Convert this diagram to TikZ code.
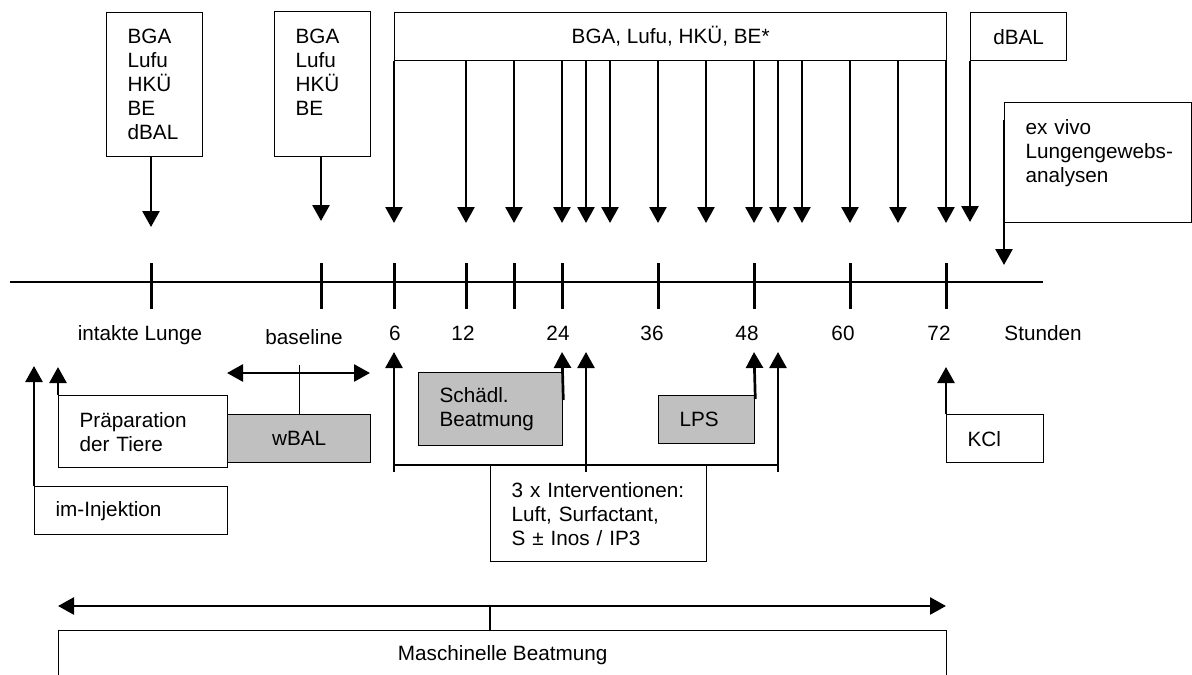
\documentclass[tikz,border=0pt]{standalone}
\usepackage{fontspec}
\setmainfont{Liberation Sans}
\usetikzlibrary{arrows.meta,calc}
\definecolor{boxgray}{HTML}{C0C0C0}
\tikzset{
  fnt/.style={font=\fontsize{20.7pt}{24pt}\selectfont},
  box/.style={draw=black, line width=1.3pt, fnt, inner xsep=21pt, inner ysep=0pt, align=left, anchor=north west},
  cbox/.style={draw=black, line width=1.3pt, fnt, inner sep=0pt, align=center, anchor=north west},
  arr/.style={line width=2.7pt, -{Triangle[width=17pt,length=16pt]}},
  darr/.style={line width=2.7pt, {Triangle[width=17pt,length=16pt]}-{Triangle[width=17pt,length=16pt]}},
  conn/.style={line width=1.3pt},
  bus/.style={line width=2pt},
  tickmark/.style={line width=3pt},
  lbl/.style={fnt, inner sep=0pt, anchor=base},
}
\begin{document}
\begin{tikzpicture}[x=1pt,y=-1pt]
\useasboundingbox (0,0) rectangle (1192,675);

% timeline
\draw[line width=1.5pt] (10,282) -- (1043,282);
\foreach \x in {151,321,394,466,514,562,658,754,850,946}
  \draw[tickmark] (\x,263) -- (\x,309);

% tick labels
\node[lbl] (lintakt) at (140,340) {intakte Lunge};
\node[lbl] (lbase) at (304,344) {baseline};
\node[lbl] (l6) at (395,340) {6};
\node[lbl] (l12) at (463,340) {12};
\node[lbl] (l24) at (558,340) {24};
\node[lbl] (l36) at (652,340) {36};
\node[lbl] (l48) at (747,340) {48};
\node[lbl] (l60) at (843,340) {60};
\node[lbl] (l72) at (939,340) {72};
\node[lbl] (lstd) at (1043,340) {Stunden};

% top boxes
\node[box, minimum width=96pt, minimum height=144pt, text width=54pt] (b1) at (106,12) {BGA\\Lufu\\HKÜ\\BE\\dBAL};
\node[box, minimum width=96pt, minimum height=145pt, text width=54pt] (b2) at (274,11) {BGA\\Lufu\\HKÜ\\BE\\\mbox{}};
\node[cbox, minimum width=552pt, minimum height=48pt] (ball) at (394,12) {BGA, Lufu, HKÜ, BE*};
\node[cbox, minimum width=96pt, minimum height=48pt] (dbal) at (970,12) {dBAL};
\node[box, minimum width=187pt, minimum height=120pt, text width=145pt] (exv) at (1004,102) {\mbox{ex vivo}\\\mbox{Lungengewebs-}\\\mbox{analysen}\\\mbox{}};

\draw[arr] (151,0 |- b1.south) -- (151,227);
\draw[arr] (321,0 |- b2.south) -- (321,221);
\foreach \x in {394,466,514,562,586,610,658,706,754,778,802,850,898,946}
  \draw[arr] (\x,0 |- ball.south) -- (\x,223);
\draw[arr] (dbal.south west) -- (970,222);
\draw[arr] ($(exv.north west)+(0,18)$) -- (1004,265);

% lower boxes
\node[box, minimum width=169pt, minimum height=72pt, text width=127pt] (prep) at (58,395) {Präparation\\der Tiere};
\node[box, minimum width=193pt, minimum height=48pt, text width=151pt] (inj) at (34,486) {im-Injektion};
\node[cbox, fill=boxgray, minimum width=143pt, minimum height=48pt] (wbal) at (227,414) {wBAL};
\node[box, fill=boxgray, minimum width=144pt, minimum height=73pt, text width=102pt] (schaedl) at (418,372) {Schädl.\\Beatmung};
\node[box, fill=boxgray, minimum width=96pt, minimum height=48pt, text width=54pt] (lps) at (658,395) {LPS};
\node[box, minimum width=97pt, minimum height=48pt, text width=55pt] (kcl) at (946,414) {KCl};
\node[box, minimum width=216pt, minimum height=96pt, text width=174pt] (interv) at (490,465) {\mbox{3 x Interventionen:}\\\mbox{Luft, Surfactant,}\\\mbox{S ± Inos / IP3}};
\node[cbox, minimum width=888pt, minimum height=48pt] (masch) at (58,630) {Maschinelle Beatmung};

% baseline span
\coordinate (bl) at (227,373);
\coordinate (br) at (370,373);
\draw[darr] (bl) -- (br);
\draw[conn] (wbal.north) -- ++(0,-49);

% up arrows
\draw[arr] (prep.north west) -- (58,367);
\draw[arr] (inj.north west) -- (34,366);
\draw[arr] ($(schaedl.north east)+(0,28)$) -- (562,352);
\draw[arr] ($(lps.north east)+(0,4)$) -- (754,352);
\draw[arr] (kcl.north west) -- (946,367);

% interventions
\draw[bus] (394,0 |- interv.north) -- (778,0 |- interv.north);
\foreach \x in {394,586,778}
  \draw[arr] (\x,472) -- (\x,352);

% mechanical ventilation span
\coordinate (ml) at (58,606);
\coordinate (mr) at (946,606);
\draw[darr] (ml) -- (mr);
\draw[conn] (490,0 |- masch.north) -- (490,606);
\end{tikzpicture}
\end{document}
